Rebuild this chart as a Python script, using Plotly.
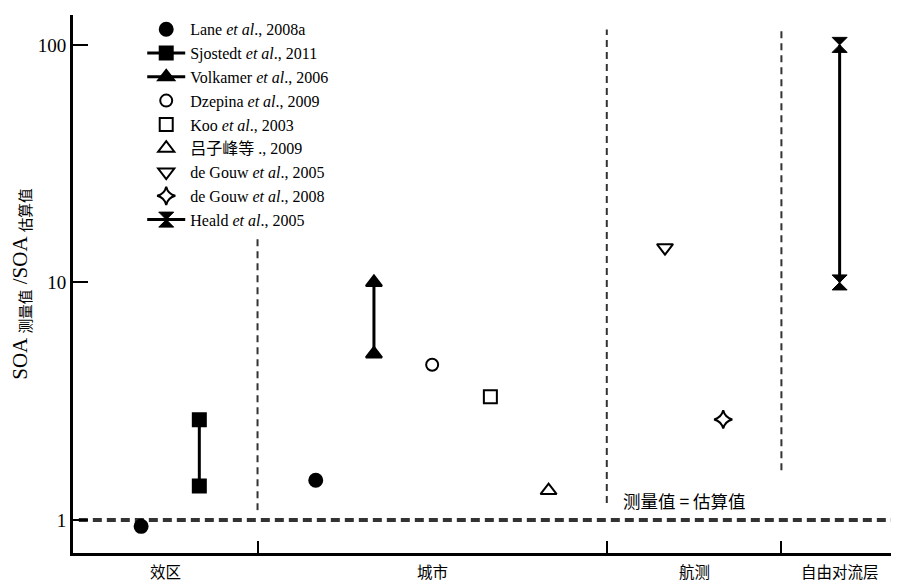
import plotly.graph_objects as go
import math

# ---------------- data ----------------
categories = ["效区", "城市", "航测", "自由对流层"]
boundaries = [3, 9, 12]                # category separators (x units)
x_min, x_max = -0.17, 14.02
sep_low = [1.1, 1.18, 1.62]
sep_high = [15.8, 116.0, 116.0]

lane_x, lane_y = [1, 4], [0.94, 1.47]
sjostedt_x, sjostedt_y = [2, 2], [1.39, 2.64]
volkamer_x, volkamer_y = [5, 5], [5.0, 10.0]
dzepina_x, dzepina_y = [6], [4.5]
koo_x, koo_y = [7], [3.3]
lv_x, lv_y = [8], [1.33]
degouw05_x, degouw05_y = [10], [14.0]
degouw08_x, degouw08_y = [11], [2.65]
heald_x, heald_y = [13, 13], [10.0, 100.0]

y_ticks = [1, 10, 100]
y_range = [0.726, 133.6]

SERIF = "Liberation Serif, Times New Roman, Noto Sans CJK SC, serif"
CJK = "Noto Sans CJK SC, sans-serif"
DASH = "#333333"

fig = go.Figure()

# reference lines (no legend)
fig.add_trace(go.Scatter(x=[x_min + 0.1, x_max], y=[1, 1], mode="lines",
                         line=dict(color=DASH, width=4, dash="9px,5px"),
                         showlegend=False, hoverinfo="skip"))
for b, lo, hi in zip(boundaries, sep_low, sep_high):
    fig.add_trace(go.Scatter(x=[b, b], y=[lo, hi], mode="lines",
                             line=dict(color=DASH, width=2, dash="7px,5px"),
                             showlegend=False, hoverinfo="skip"))

def add(name, xs, ys, symbol, size, mode="markers", lw=2):
    fig.add_trace(go.Scatter(
        x=xs, y=ys, mode=mode, name=name, legendgroup=name,
        line=dict(color="black", width=3),
        marker=dict(symbol=symbol, size=size, color="black",
                    line=dict(color="black", width=lw)),
        cliponaxis=False))

add("Lane <i>et al</i>., 2008a", lane_x, lane_y, "circle", 13)
add("Sjostedt <i>et al</i>., 2011", sjostedt_x, sjostedt_y, "square", 13, mode="lines+markers")
add("Volkamer <i>et al</i>., 2006", volkamer_x, volkamer_y, "triangle-up", 14, mode="lines+markers")
add("Dzepina <i>et al</i>., 2009", dzepina_x, dzepina_y, "circle-open", 12)
add("Koo <i>et al</i>., 2003", koo_x, koo_y, "square-open", 13)
add("吕子峰等 ., 2009", lv_x, lv_y, "triangle-up-open", 14)
add("de Gouw <i>et al</i>., 2005", degouw05_x, degouw05_y, "triangle-down-open", 14)
add("de Gouw <i>et al</i>., 2008", degouw08_x, degouw08_y, "star-diamond-open", 13)
add("Heald <i>et al</i>., 2005", heald_x, heald_y, "hourglass", 15, mode="lines+markers", lw=1)

# annotations
annotations = []
centers = [(x_min + boundaries[0]) / 2,
           (boundaries[0] + boundaries[1]) / 2,
           (boundaries[1] + boundaries[2]) / 2,
           (boundaries[2] + x_max) / 2]
for c, lab in zip(centers, categories):
    annotations.append(dict(x=c, y=-0.034, xref="x", yref="paper", text=lab,
                            showarrow=False, font=dict(family=CJK, size=15.5, color="black"),
                            xanchor="center", yanchor="middle"))
annotations.append(dict(x=9.24, y=math.log10(1.21), xref="x", yref="y",
                        text="测量值 = 估算值", showarrow=False,
                        font=dict(family=CJK, size=17.5, color="black"),
                        xanchor="left", yanchor="middle"))

fig.update_layout(
    width=891, height=575,
    margin=dict(l=65, r=0, t=7, b=30),
    paper_bgcolor="white", plot_bgcolor="white",
    showlegend=True,
    legend=dict(x=0.0838, y=1.005, xanchor="left", yanchor="top",
                bgcolor="rgba(0,0,0,0)", borderwidth=0,
                font=dict(family=SERIF, size=16, color="black"),
                itemwidth=38, tracegroupgap=0),
    annotations=annotations,
    xaxis=dict(range=[x_min, x_max], showgrid=False, zeroline=False,
               showline=True, linecolor="black", linewidth=3,
               tickmode="array", tickvals=boundaries, showticklabels=False,
               ticks="inside", ticklen=12, tickwidth=1.5, tickcolor="black"),
    yaxis=dict(type="log", range=[math.log10(y_range[0]), math.log10(y_range[1])],
               showgrid=False, zeroline=False,
               showline=True, linecolor="black", linewidth=3,
               tickmode="array", tickvals=y_ticks, ticktext=[str(t) for t in y_ticks],
               ticks="inside", ticklen=15, tickwidth=1.5, tickcolor="black",
               tickfont=dict(family=SERIF, size=19, color="black"),
               title=dict(text="SOA <sub>测量值</sub> /SOA <sub>估算值</sub>",
                          font=dict(family=SERIF, size=21, color="black"),
                          standoff=10)),
)

fig.write_html("out.html")
